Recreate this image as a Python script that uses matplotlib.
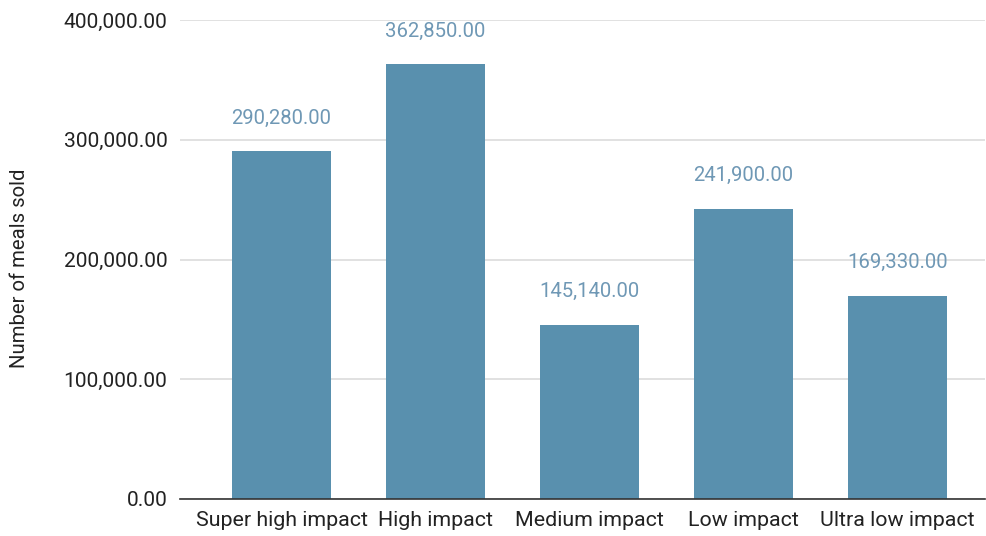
import matplotlib
matplotlib.use("Agg")
import matplotlib.pyplot as plt
from matplotlib.ticker import FuncFormatter

categories = ["Super high impact", "High impact", "Medium impact", "Low impact", "Ultra low impact"]
meals_sold = [290280.00, 362850.00, 145140.00, 241900.00, 169330.00]
y_ticks = [0, 100000, 200000, 300000, 400000]

plt.rcParams["font.family"] = ["Roboto", "DejaVu Sans"]

fig = plt.figure(figsize=(9.87, 5.36), dpi=100)
ax = fig.add_axes([180 / 987, 37 / 536, 805 / 987, 479 / 536])

bar_color = "#5990ae"
label_color = "#6f98b5"

x = list(range(len(categories)))
ax.bar(x, meals_sold, width=0.64, color=bar_color, zorder=3)

for xi, v in zip(x, meals_sold):
    ax.text(xi, v + 20000, f"{v:,.2f}", ha="center", va="bottom",
            fontsize=14.6, color=label_color, zorder=4)

ax.set_ylim(0, 400000)
ax.set_xlim(-0.66, 4.57)
ax.set_yticks(y_ticks)
ax.yaxis.set_major_formatter(FuncFormatter(lambda v, p: f"{v:,.2f}"))
ax.set_xticks(x)
ax.set_xticklabels(categories)

ax.grid(axis="y", color="#d9d9d9", linewidth=1.1, zorder=0)
for s in ["top", "right", "left"]:
    ax.spines[s].set_visible(False)
ax.spines["bottom"].set_color("#333333")
ax.spines["bottom"].set_linewidth(1.2)
ax.spines["bottom"].set_zorder(5)

ax.tick_params(axis="y", length=0, pad=9, labelsize=15.1, labelcolor="#222222")
ax.tick_params(axis="x", length=0, pad=9, labelsize=15.4, labelcolor="#222222")

ax.set_ylabel("Number of meals sold", fontsize=14.6, color="#222222")
ax.yaxis.set_label_coords(-0.188, 0.482)

fig.savefig("out.png", dpi=100, facecolor="white")
